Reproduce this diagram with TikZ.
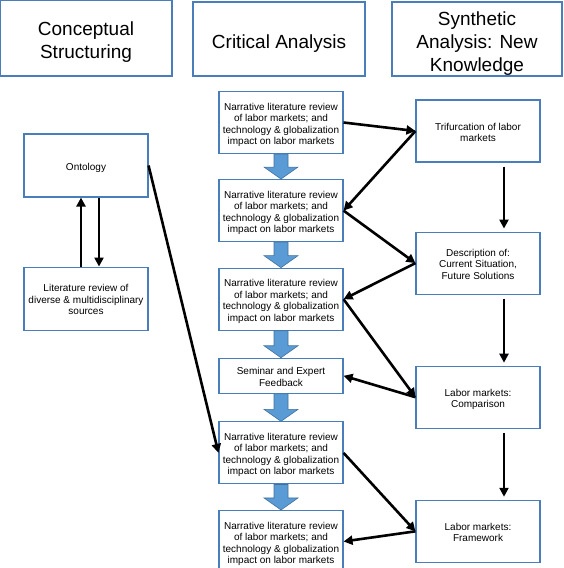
\documentclass[tikz,border=0pt]{standalone}
\usepackage{fontspec}
\setmainfont{Liberation Sans}
\usetikzlibrary{positioning,calc,arrows.meta}
\definecolor{boxline}{RGB}{74,126,187}
\definecolor{blockfill}{RGB}{91,155,213}
\definecolor{blockline}{RGB}{65,113,156}
\tikzset{
  phase/.style={draw=boxline,line width=1.1pt,inner sep=0pt,
    font=\fontsize{19}{23}\selectfont,minimum width=172pt,minimum height=74pt},
  stage/.style={draw=boxline,line width=1.1pt,inner sep=0pt,
    font=\fontsize{10}{11.5}\selectfont,minimum width=124pt,minimum height=62pt},
  link/.style={line width=2.6pt,-{Triangle[length=9pt,width=9pt]}},
}
\newcommand{\lowered}[2]{\raisebox{-#1}[\height][\depth]{\begin{tabular}{@{}c@{}}#2\end{tabular}}}
\newcommand{\headtext}[1]{\lowered{4.5pt}{#1}}
\newcommand{\boxtext}[1]{\lowered{2.5pt}{#1}}
\newcommand{\narrtext}{\boxtext{Narrative literature review\\of labor markets; and\\technology \& globalization\\impact on labor markets}}
\newcommand{\blockdown}[2]{%
  \filldraw[fill=blockfill,draw=blockline,line width=0.6pt]
    let \p1=(#1.south), \p2=(#2.north) in
    (\x1-7pt,\y1) -- (\x1+7pt,\y1) -- (\x1+7pt,\y2+12pt) -- (\x1+17pt,\y2+12pt)
    -- (\x1,\y2) -- (\x1-17pt,\y2+12pt) -- (\x1-7pt,\y2+12pt) -- cycle;}

\begin{document}
\begin{tikzpicture}[x=1pt,y=1pt]
    \useasboundingbox (0,0) rectangle (563,-568);
    % column heads
    \node[phase,minimum height=76pt] (concept) at (86,-38) {\headtext{Conceptual\\Structuring}};
    \node[phase] (critical) at (279,-39) {\headtext{Critical Analysis}};
    \node[phase,minimum width=170pt] (synth) at (477,-39) {\headtext{Synthetic\\Analysis: New\\Knowledge}};
    % conceptual structuring
    \node[stage,minimum height=63pt] (ont) at (86,-165.5) {\boxtext{Ontology}};
    \node[stage,minimum height=63pt,below=69pt of ont] (lit) {\boxtext{Literature review of\\diverse \& multidisciplinary\\sources}};
    % critical analysis
    \node[stage] (n1) at (281,-122.5) {\narrtext};
    \node[stage,below=25pt of n1] (n2) {\narrtext};
    \node[stage,below=25.5pt of n2] (n3) {\narrtext};
    \node[stage,below=27pt of n3,minimum height=35pt] (sem) {\boxtext{Seminar and Expert\\Feedback}};
    \node[stage,below=27.5pt of sem] (n4) {\narrtext};
    \node[stage,below=25.5pt of n4] (n5) {\narrtext};
    % synthetic analysis
    \node[stage] (trif) at (478,-131) {\boxtext{Trifurcation of labor\\markets}};
    \node[stage,below=69pt of trif] (desc) {\boxtext{Description of:\\Current Situation,\\Future Solutions}};
    \node[stage,below=71pt of desc] (comp) {\boxtext{Labor markets:\\Comparison}};
    \node[stage,below=71pt of comp] (frame) {\boxtext{Labor markets:\\Framework}};
    % block arrows
    \blockdown{n1}{n2}
    \blockdown{n2}{n3}
    \blockdown{n3}{sem}
    \blockdown{sem}{n4}
    \blockdown{n4}{n5}
    % links
    \draw[link] ([xshift=-5pt]lit.north) -- ([xshift=-5pt]ont.south);
    \draw[link] ([xshift=13pt]ont.south) -- ([xshift=13pt]lit.north);
    \draw[link] (ont.east) -- (n4.west);
    \draw[link] (n1.east) -- (trif.west);
    \draw[link] (trif.west) -- (n2.east);
    \draw[link] (n2.east) -- (desc.west);
    \draw[link] (desc.west) -- (n3.east);
    \draw[link] (n3.east) -- (comp.west);
    \draw[link] (comp.west) -- (sem.east);
    \draw[link] (n4.east) -- (frame.west);
    \draw[link] (frame.west) -- (n5.east);
    \foreach \a/\b in {trif/desc,desc/comp,comp/frame}
      \draw[link,shorten <=4pt,shorten >=3pt] ([xshift=26pt]\a.south) -- ([xshift=26pt]\b.north);
\end{tikzpicture}
\end{document}
